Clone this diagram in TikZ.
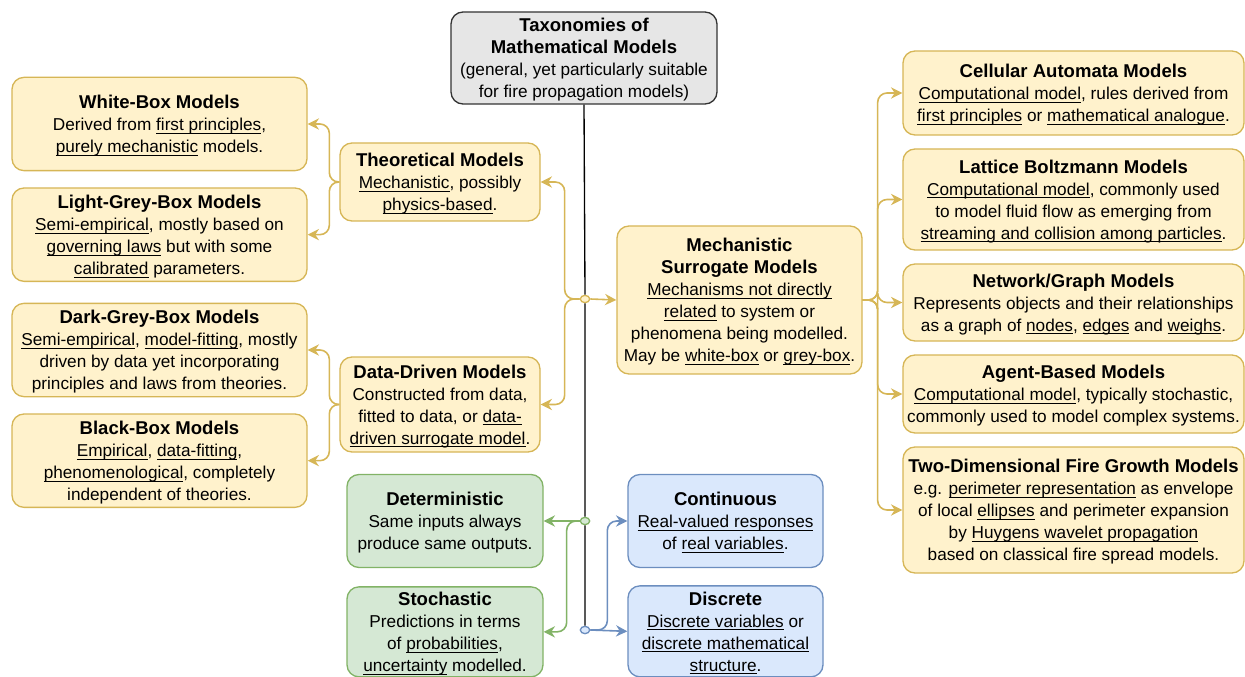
\documentclass[tikz,border=0pt]{standalone}
\usepackage{fontspec}
\setmainfont{Liberation Sans}
\usepackage{tikz}
\usetikzlibrary{shapes.geometric, arrows.meta, positioning}
\definecolor{yfill}{HTML}{FFF2CC}
\definecolor{ydraw}{HTML}{D6B656}
\definecolor{gfill}{HTML}{D5E8D4}
\definecolor{gdraw}{HTML}{82B366}
\definecolor{bfill}{HTML}{DAE8FC}
\definecolor{bdraw}{HTML}{6C8EBF}
\definecolor{tfill}{HTML}{E6E6E6}
\newsavebox{\ulbox}
\newcommand{\uln}[1]{\leavevmode\sbox{\ulbox}{#1}\rlap{\rule[-2.4pt]{\wd\ulbox}{0.8pt}}\usebox{\ulbox}}
\newcommand{\mtitle}[1]{{\fontsize{13.9pt}{16.5pt}\selectfont\bfseries #1}}

\begin{document}
\begin{tikzpicture}[
  x=0.75pt, y=-0.75pt,
  font=\fontsize{12.9pt}{16.5pt}\selectfont,
  box/.style={rectangle, rounded corners=9pt, line width=1pt, align=center,
              inner sep=0pt, text depth=0pt},
  topbox/.style={box, draw=black!80, fill=tfill},
  ybox/.style={box, draw=ydraw, fill=yfill},
  gbox/.style={box, draw=gdraw, fill=gfill},
  bbox/.style={box, draw=bdraw, fill=bfill},
  dot/.style={ellipse, minimum width=7pt, minimum height=5.5pt, inner sep=0pt, line width=1pt},
  tip/.style={-{Stealth[length=8.5pt, width=8.5pt, inset=2.8pt]}},
  yarr/.style={draw=ydraw, line width=1.2pt, rounded corners=7pt, tip},
  garr/.style={draw=gdraw, line width=1.2pt, rounded corners=7pt, tip},
  barr/.style={draw=bdraw, line width=1.2pt, rounded corners=7pt, tip},
]
  \useasboundingbox (0,0) rectangle (1245,677);

  % root
  \node[topbox, minimum width=199.5pt, minimum height=69pt] (top) at (584,58)
    {\mtitle{Taxonomies of}\\\mtitle{Mathematical Models}\\(general, yet particularly suitable\\for fire propagation models)};

  % left column
  \node[ybox, minimum width=221.25pt, minimum height=70pt] (wb) at (159.5,124)
    {\mtitle{White-Box Models}\\Derived from \uln{first principles},\\\uln{purely mechanistic} models.};
  \node[ybox, minimum width=221.25pt, minimum height=70pt, below=12pt of wb] (lgb)
    {\mtitle{Light-Grey-Box Models}\\\uln{Semi-empirical}, mostly based on\\\uln{governing laws} but with some\\\uln{calibrated} parameters.};
  \node[ybox, minimum width=221.25pt, minimum height=70pt] (dgb) at (159.5,350)
    {\mtitle{Dark-Grey-Box Models}\\\uln{Semi-empirical}, \uln{model-fitting}, mostly\\driven by data yet incorporating\\principles and laws from theories.};
  \node[ybox, minimum width=221.25pt, minimum height=70pt, below=12pt of dgb] (bb)
    {\mtitle{Black-Box Models}\\\uln{Empirical}, \uln{data-fitting},\\\uln{phenomenological}, completely\\independent of theories.};

  % middle
  \node[ybox, minimum width=150pt, minimum height=58.5pt] (theo) at (440,182)
    {\mtitle{Theoretical Models}\\\uln{Mechanistic}, possibly\\\uln{physics-based}.};
  \node[ybox, minimum width=150pt, minimum height=71.25pt] (data) at (440,404.5)
    {\mtitle{Data-Driven Models}\\Constructed from data,\\fitted to data, or \uln{data-}\\\uln{driven surrogate model}.};
  \node[gbox, minimum width=147pt, minimum height=69.75pt] (det) at (445,521)
    {\mtitle{Deterministic}\\Same inputs always\\produce same outputs.};
  \node[gbox, minimum width=147pt, minimum height=67.5pt, below=13.5pt of det] (sto)
    {\mtitle{Stochastic}\\Predictions in terms\\of \uln{probabilities},\\\uln{uncertainty} modelled.};
  \node[bbox, minimum width=146.25pt, minimum height=69.75pt] (cont) at (725.5,521)
    {\mtitle{Continuous}\\\uln{Real-valued responses}\\of \uln{real variables}.};
  \node[bbox, minimum width=146.25pt, minimum height=68.25pt, below=12.75pt of cont] (disc)
    {\mtitle{Discrete}\\\uln{Discrete variables} or\\\uln{discrete mathematical}\\\uln{structure}.};
  \node[ybox, minimum width=183.75pt, minimum height=111pt] (mech) at (739.5,300)
    {\mtitle{Mechanistic}\\\mtitle{Surrogate Models}\\\uln{Mechanisms not directly}\\\uln{related} to system or\\phenomena being modelled.\\May be \uln{white-box} or \uln{grey-box}.};

  % right column
  \node[ybox, minimum width=255.75pt, minimum height=63pt] (cell) at (1073.5,93)
    {\mtitle{Cellular Automata Models}\\\uln{Computational model}, rules derived from\\\uln{first principles} or \uln{mathematical analogue}.};
  \node[ybox, minimum width=255.75pt, minimum height=75.75pt, below=9.5pt of cell] (lat)
    {\mtitle{Lattice Boltzmann Models}\\\uln{Computational model}, commonly used\\to model fluid flow as emerging from\\\uln{streaming and collision among particles}.};
  \node[ybox, minimum width=255.75pt, minimum height=57.75pt, below=9.5pt of lat] (net)
    {\mtitle{Network/Graph Models}\\Represents objects and their relationships\\as a graph of \uln{nodes}, \uln{edges} and \uln{weighs}.};
  \node[ybox, minimum width=255.75pt, minimum height=58.5pt, below=9.5pt of net] (agent)
    {\mtitle{Agent-Based Models}\\\uln{Computational model}, typically stochastic,\\commonly used to model complex systems.};
  \node[ybox, minimum width=255.75pt, minimum height=94.5pt, below=9.5pt of agent] (fire)
    {\mtitle{Two-Dimensional Fire Growth Models}\\e.g. \uln{perimeter representation} as envelope\\of local \uln{ellipses} and perimeter expansion\\by \uln{Huygens wavelet propagation}\\based on classical fire spread models.};

  % junctions
  \node[dot, draw=ydraw, fill=yfill] (ydot) at (585,299) {};
  \node[dot, draw=gdraw, fill=gfill] (gdot) at (585,521) {};
  \node[dot, draw=bdraw, fill=bfill] (bdot) at (585,630) {};

  \draw[line width=1pt] (top.south) -- (ydot.north) (ydot.south) -- (gdot.north)
    (gdot.south) -- (bdot.north);

  \draw[yarr] (ydot.east) -- (mech.west);
  \draw[yarr] (ydot.west) -- ++(-15,0) |- (theo.east);
  \draw[yarr] (ydot.west) -- ++(-15,0) |- (data.east);
  \draw[yarr] (theo.west) -- ++(-10,0) |- (wb.east);
  \draw[yarr] (theo.west) -- ++(-10,0) |- (lgb.east);
  \draw[yarr] (data.west) -- ++(-10,0) |- (dgb.east);
  \draw[yarr] (data.west) -- ++(-10,0) |- (bb.east);
  \foreach \n in {cell, lat, net, agent, fire}
    \draw[yarr] (mech.east) -- ++(15,0) |- (\n.west);

  \draw[garr] (gdot.west) -- (det.east);
  \draw[garr] (gdot.west) -- ++(-13,0) |- (sto.east);
  \draw[barr] (bdot.east) -- (disc.west);
  \draw[barr] (bdot.east) -- ++(17,0) |- (cont.west);
\end{tikzpicture}
\end{document}
